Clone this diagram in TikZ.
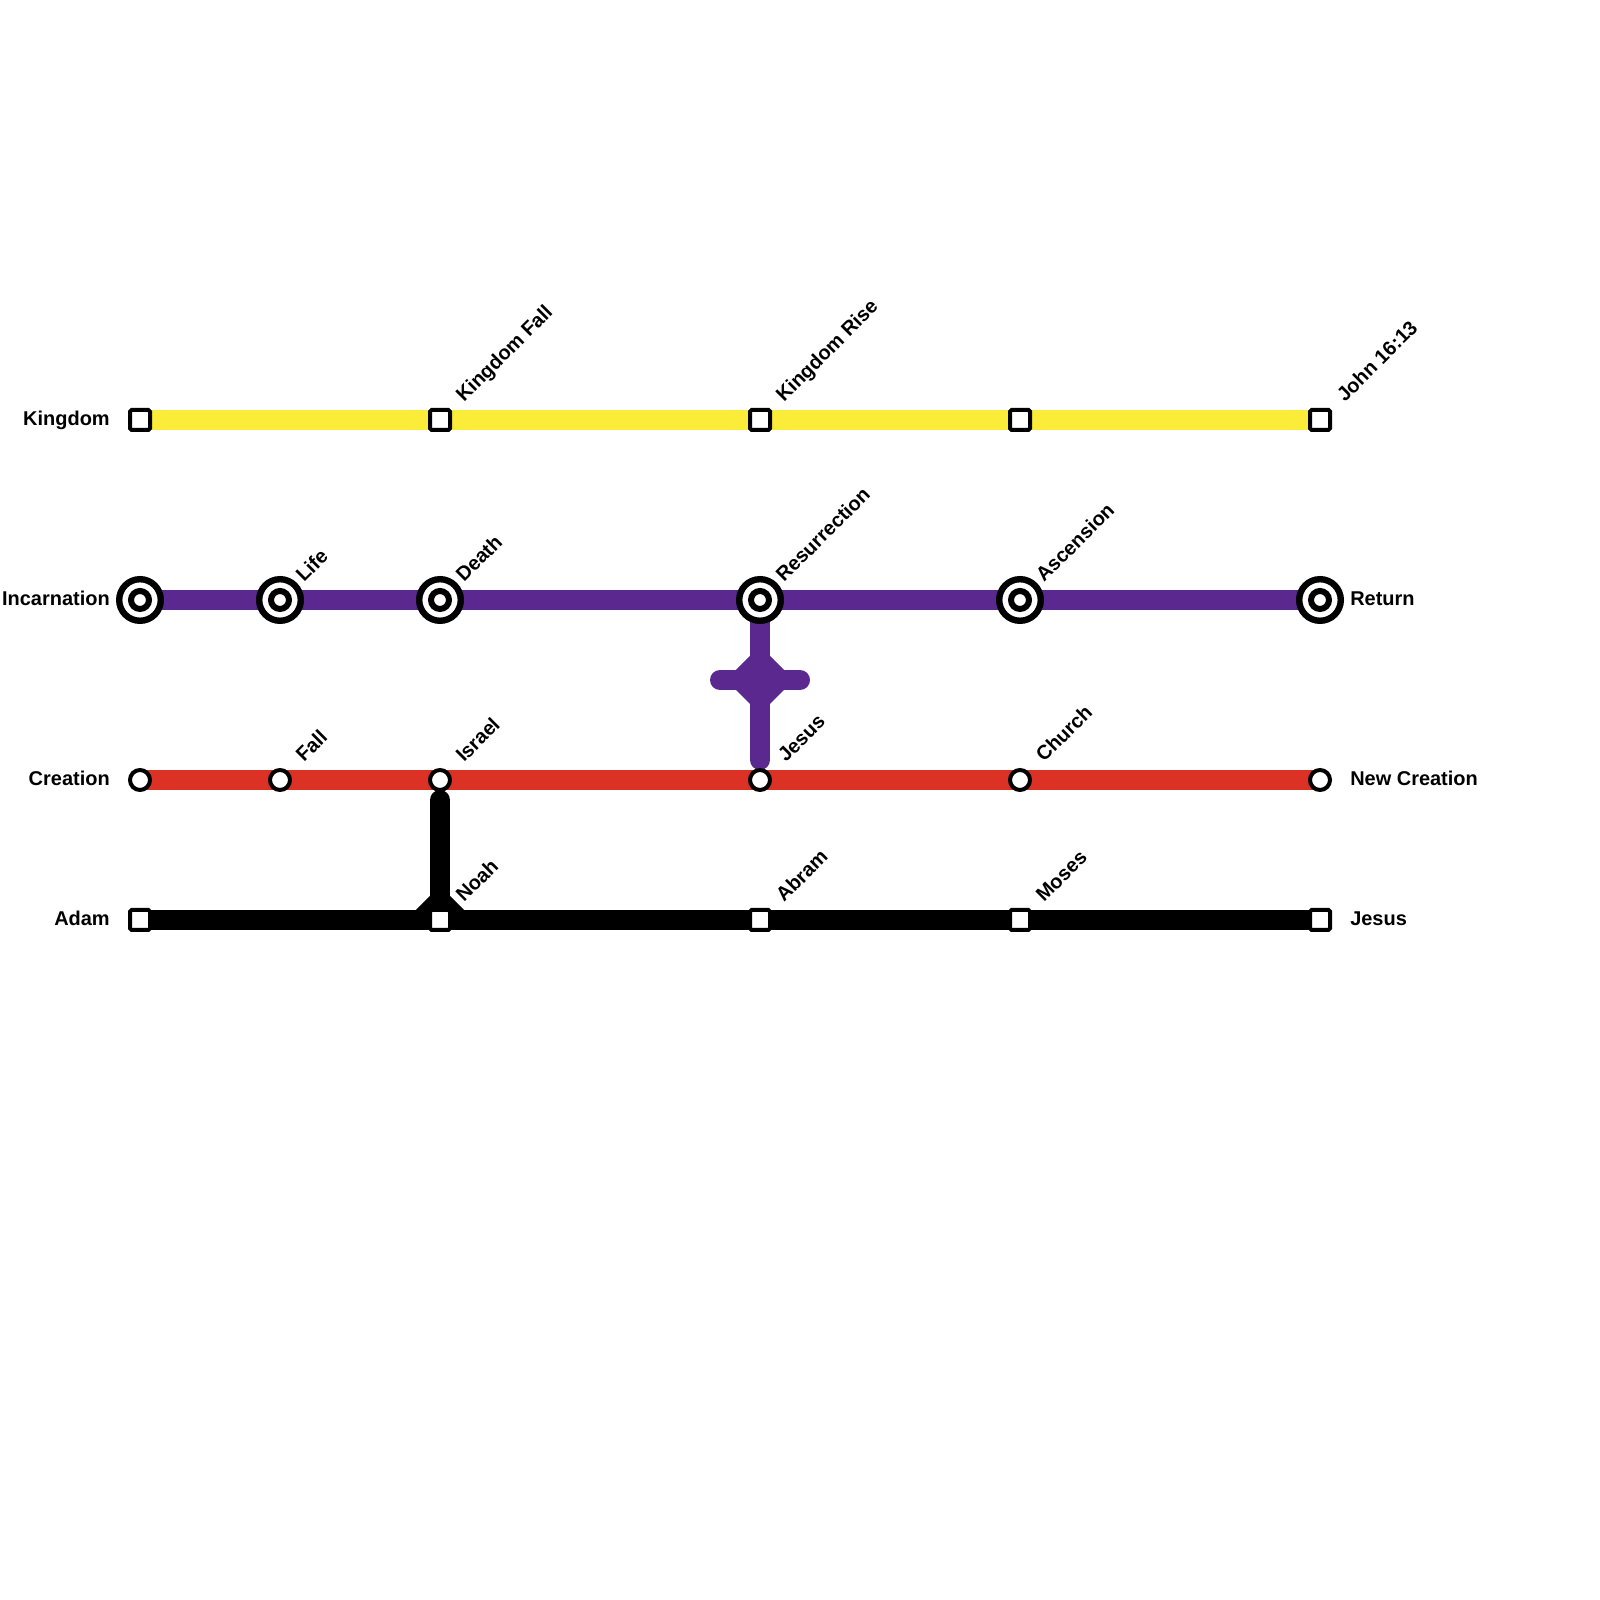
\documentclass[tikz,border=0pt]{standalone}
\usepackage{xcolor}
\usepackage{fontspec}
\setmainfont{Liberation Sans}
\usepackage{tikz}
\usetikzlibrary{backgrounds, shapes.geometric}

\definecolor{kingdomyellow}{HTML}{FBEC3A}
\definecolor{incarnationpurple}{HTML}{5A288E}
\definecolor{creationred}{HTML}{DC3125}

\tikzset{
    stopsquare/.style={
        draw=black, fill=white, line width=0.1cm, rectangle, rounded corners=0.04cm,
        minimum size=0.5cm, inner sep=0pt
    },
    stopcircle/.style={
        draw=black, fill=white, line width=0.1cm, circle,
        minimum size=0.5cm, inner sep=0pt
    },
    hubouter/.style={
        draw=black, fill=white, line width=0.16cm, circle,
        minimum size=1.04cm, inner sep=0pt
    },
    hubinner/.style={
        draw=black, fill=white, line width=0.15cm, circle,
        minimum size=0.45cm, inner sep=0pt
    },
    rowlabel/.style={
        font=\fontsize{14.2}{17}\selectfont\bfseries, inner sep=0pt
    },
    leftlabel/.style={rowlabel, anchor=base east},
    rightlabel/.style={rowlabel, anchor=base west},
    slantlabel/.style={rowlabel, anchor=base west, rotate=45},
    trackline/.style={line width=0.5cm},
    branchline/.style={line width=0.5cm, line cap=round}
}

\begin{document}
\begin{tikzpicture}
    \useasboundingbox (0, 0) rectangle (40, 40);

    \node[stopsquare] (kingdom) at (3.5, 29.5) {};
    \node[stopsquare] (kingdomfall) at (11, 29.5) {};
    \node[stopsquare] (kingdomrise) at (19, 29.5) {};
    \node[stopsquare] (kingdomgap) at (25.5, 29.5) {};
    \node[stopsquare] (john) at (33, 29.5) {};

    \node[hubouter] (incarnation) at (3.5, 25) {};
    \node[hubouter] (life) at (7, 25) {};
    \node[hubouter] (death) at (11, 25) {};
    \node[hubouter] (resurrection) at (19, 25) {};
    \node[hubouter] (ascension) at (25.5, 25) {};
    \node[hubouter] (return) at (33, 25) {};
    \node[hubinner] (incarnationin) at (incarnation) {};
    \node[hubinner] (lifein) at (life) {};
    \node[hubinner] (deathin) at (death) {};
    \node[hubinner] (resurrectionin) at (resurrection) {};
    \node[hubinner] (ascensionin) at (ascension) {};
    \node[hubinner] (returnin) at (return) {};

    \node[stopcircle] (creation) at (3.5, 20.5) {};
    \node[stopcircle] (fall) at (7, 20.5) {};
    \node[stopcircle] (israel) at (11, 20.5) {};
    \node[stopcircle] (jesusup) at (19, 20.5) {};
    \node[stopcircle] (church) at (25.5, 20.5) {};
    \node[stopcircle] (newcreation) at (33, 20.5) {};

    \node[stopsquare] (adam) at (3.5, 17) {};
    \node[stopsquare] (noah) at (11, 17) {};
    \node[stopsquare] (abram) at (19, 17) {};
    \node[stopsquare] (moses) at (25.5, 17) {};
    \node[stopsquare] (jesus) at (33, 17) {};

    \coordinate (purpleend) at (19, 21);
    \coordinate (crossleft) at (18, 23);
    \coordinate (crossright) at (20, 23);
    \coordinate (blackend) at (11, 20);

    \begin{scope}[on background layer]
        \draw[trackline, kingdomyellow] (kingdom.center) -- (kingdomfall.center) -- (kingdomrise.center) -- (kingdomgap.center) -- (john.center);
        \draw[trackline, incarnationpurple] (incarnation.center) -- (life.center) -- (death.center) -- (resurrection.center) -- (ascension.center) -- (return.center);
        \draw[trackline, creationred] (creation.center) -- (fall.center) -- (israel.center) -- (jesusup.center) -- (church.center) -- (newcreation.center);
        \draw[trackline, black] (adam.center) -- (noah.center) -- (abram.center) -- (moses.center) -- (jesus.center);

        \draw[branchline, incarnationpurple] (resurrection.center) -- (purpleend);
        \draw[branchline, incarnationpurple] (crossleft) -- (crossright);
        \node[diamond, fill=incarnationpurple, minimum width=1.7cm, minimum height=1.7cm, inner sep=0pt, outer sep=0pt] (crossmid) at (19, 23) {};

        \draw[branchline, black] (noah.center) -- (blackend);
        \fill[black] (10.15, 17) -- (11.85, 17) -- (11, 17.85) -- cycle;
    \end{scope}

    \node[leftlabel] (kingdomtext) at (2.75, 29.36) {Kingdom};
    \node[leftlabel] (incarnationtext) at (2.75, 24.86) {Incarnation};
    \node[leftlabel] (creationtext) at (2.75, 20.36) {Creation};
    \node[leftlabel] (adamtext) at (2.75, 16.86) {Adam};

    \node[rightlabel] (returntext) at (33.75, 24.86) {Return};
    \node[rightlabel] (newcreationtext) at (33.75, 20.36) {New Creation};
    \node[rightlabel] (jesustext) at (33.75, 16.86) {Jesus};

    \node[slantlabel] (kingdomfalltext) at (11.6, 29.92) {Kingdom Fall};
    \node[slantlabel] (kingdomrisetext) at (19.6, 29.92) {Kingdom Rise};
    \node[slantlabel] (johntext) at (33.62, 29.92) {John 16:13};
    \node[slantlabel] (lifetext) at (7.6, 25.42) {Life};
    \node[slantlabel] (deathtext) at (11.6, 25.42) {Death};
    \node[slantlabel] (resurrectiontext) at (19.6, 25.42) {Resurrection};
    \node[slantlabel] (ascensiontext) at (26.1, 25.42) {Ascension};
    \node[slantlabel] (falltext) at (7.6, 20.92) {Fall};
    \node[slantlabel] (israeltext) at (11.6, 20.92) {Israel};
    \node[slantlabel] (jesusuptext) at (19.65, 20.92) {Jesus};
    \node[slantlabel] (churchtext) at (26.1, 20.92) {Church};
    \node[slantlabel] (noahtext) at (11.6, 17.42) {Noah};
    \node[slantlabel] (abramtext) at (19.6, 17.42) {Abram};
    \node[slantlabel] (mosestext) at (26.1, 17.42) {Moses};
\end{tikzpicture}
\end{document}
